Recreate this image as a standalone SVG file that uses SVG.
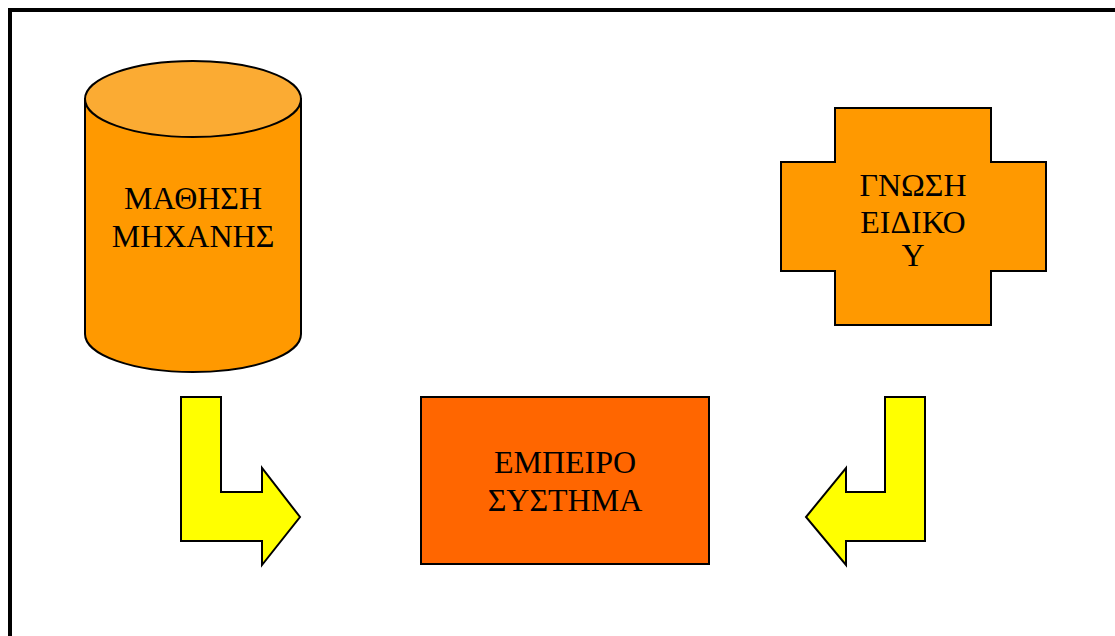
<svg xmlns="http://www.w3.org/2000/svg" width="1115" height="636" viewBox="0 0 1115 636">
<style>
.lbl{font-family:"Liberation Serif","Times New Roman",serif;font-size:32px;fill:#000;text-anchor:middle}
.shp{stroke:#000;stroke-width:2;stroke-linejoin:miter}
.arrow{fill:#FFFF00;stroke:#000;stroke-width:2}
</style>
<rect x="0" y="0" width="1115" height="636" fill="#fff"/>
<rect x="10" y="10" width="1120" height="640" fill="none" stroke="#000" stroke-width="4"/>
<g id="node-mathisi">
<path class="shp" fill="#FF9900" d="M85,99 L85,334 A108,38 0 0 0 301,334 L301,99 Z"/>
<ellipse class="shp" cx="193" cy="99" rx="108" ry="38" fill="#FBAB33"/>
<text class="lbl" x="193" y="209">ΜΑΘΗΣΗ</text>
<text class="lbl" x="193" y="247">ΜΗΧΑΝΗΣ</text>
</g>
<g id="node-gnosi">
<polygon class="shp" fill="#FF9900" points="835,108 991,108 991,162 1046,162 1046,271 991,271 991,325 835,325 835,271 781,271 781,162 835,162"/>
<text class="lbl" x="913" y="196">ΓΝΩΣΗ</text>
<text class="lbl" x="913" y="233">ΕΙΔΙΚΟ</text>
<text class="lbl" x="913" y="266">Υ</text>
</g>
<g id="node-empeiro">
<rect class="shp" x="421" y="397" width="288" height="167" fill="#FF6600"/>
<text class="lbl" x="565" y="473">ΕΜΠΕΙΡΟ</text>
<text class="lbl" x="565" y="511">ΣΥΣΤΗΜΑ</text>
</g>
<g id="connectors">
<polygon class="arrow" points="181,397 221,397 221,492 262,492 262,468 300,517 262,565 262,541 181,541"/>
<polygon class="arrow" points="885,397 925,397 925,541 846,541 846,565 806,517 846,468 846,492 885,492"/>
</g>
</svg>
